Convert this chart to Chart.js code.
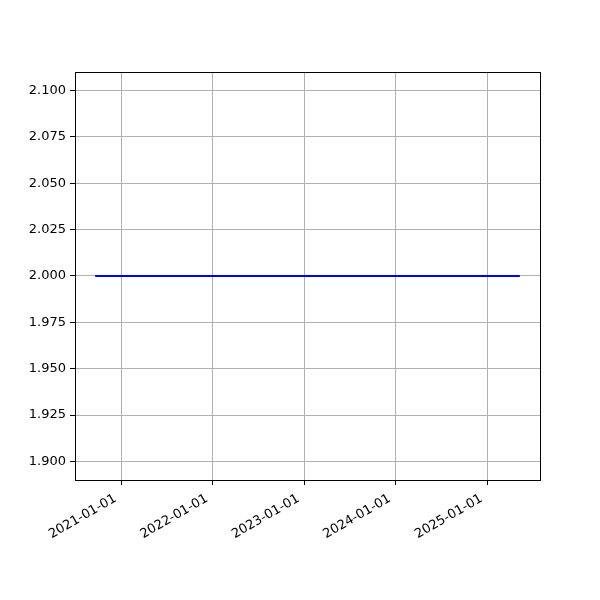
<!DOCTYPE html>
<html>
<head>
<meta charset="utf-8">
<script src="https://cdn.jsdelivr.net/npm/chart.js@4"></script>
<style>
html,body{margin:0;padding:0;background:#fff;}
#wrap{width:600px;height:600px;}
</style>
</head>
<body>
<div id="wrap"><canvas id="c" width="600" height="600"></canvas></div>
<script>
const dates = ['2020-09-22', '2021-06-01', '2022-06-01', '2023-06-01', '2024-06-01', '2025-05-06'];
const values = [2, 2, 2, 2, 2, 2];
const xTickLabels = ['2021-01-01', '2022-01-01', '2023-01-01', '2024-01-01', '2025-01-01'];
const yTicks = [1.900, 1.925, 1.950, 1.975, 2.000, 2.025, 2.050, 2.075, 2.100];

const xs = dates.map(d => Date.parse(d));
const span = Math.max(...xs) - Math.min(...xs);
const xMin = Math.min(...xs) - 0.05 * span;
const xMax = Math.max(...xs) + 0.05 * span;

const frame = {
  id: 'frame',
  afterDraw(chart) {
    const a = chart.chartArea, ctx = chart.ctx;
    ctx.save();
    ctx.strokeStyle = '#000';
    ctx.lineWidth = 1;
    ctx.strokeRect(Math.round(a.left) + 0.5, Math.round(a.top) + 0.5, Math.round(a.right - a.left), Math.round(a.bottom - a.top));
    ctx.restore();
  }
};

const font = {family: 'DejaVu Sans', size: 13};
new Chart(document.getElementById('c'), {
  type: 'line',
  data: {
    datasets: [{
      data: xs.map((x, i) => ({x: x, y: values[i]})),
      borderColor: '#0000ff',
      borderWidth: 2,
      borderCapStyle: 'square',
      pointRadius: 0,
      fill: false,
      tension: 0
    }]
  },
  options: {
    responsive: false,
    animation: false,
    plugins: {legend: {display: false}, tooltip: {enabled: false}},
    layout: {padding: {top: 72, right: 60, left: 0, bottom: 0}},
    scales: {
      x: {
        type: 'linear',
        min: xMin, max: xMax,
        afterBuildTicks(s) { s.ticks = xTickLabels.map(l => ({value: Date.parse(l)})); },
        afterFit(s) { s.height = 120; },
        ticks: {
          color: '#000', font: font,
          minRotation: 30, maxRotation: 30, autoSkip: false,
          padding: 6, labelOffset: -6,
          callback(v) { const d = new Date(v); return d.toISOString().slice(0, 10); }
        },
        grid: {color: '#b0b0b0', lineWidth: 1, tickLength: 5, tickColor: '#000', drawTicks: true},
        border: {display: false}
      },
      y: {
        type: 'linear',
        min: 1.89, max: 2.11,
        afterBuildTicks(s) { s.ticks = yTicks.map(v => ({value: v})); },
        afterFit(s) { s.width = 75; },
        ticks: {color: '#000', font: font, padding: 4, callback(v) { return v.toFixed(3); }},
        grid: {color: '#b0b0b0', lineWidth: 1, tickLength: 5, tickColor: '#000', drawTicks: true},
        border: {display: false}
      }
    }
  },
  plugins: [frame]
});
</script>
</body>
</html>
